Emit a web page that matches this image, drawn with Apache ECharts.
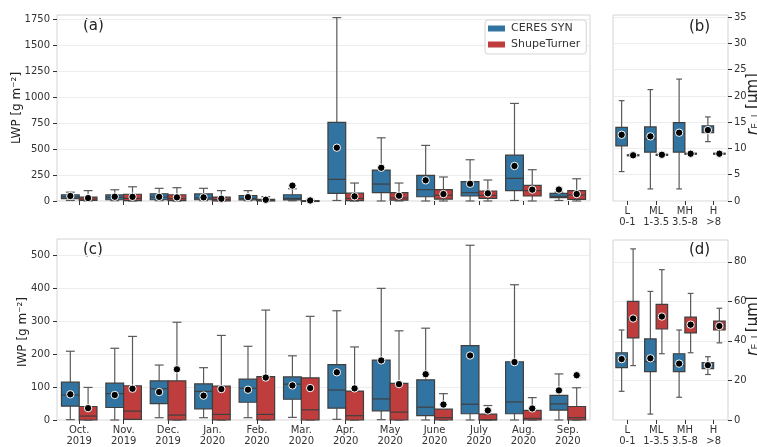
<!DOCTYPE html>
<html>
<head>
<meta charset="utf-8">
<script src="https://cdn.jsdelivr.net/npm/echarts@6/dist/echarts.min.js"></script>
<style>html,body{margin:0;padding:0;background:#fff}#c{width:757px;height:447px}</style>
</head>
<body>
<div id="c"></div>
<script>
// ---------- DATA ----------
const months = ['Oct.\n2019','Nov.\n2019','Dec.\n2019','Jan.\n2020','Feb.\n2020','Mar.\n2020','Apr.\n2020','May\n2020','June\n2020','July\n2020','Aug.\n2020','Sep.\n2020'];
const bins = ['L\n0-1','ML\n1-3.5','MH\n3.5-8','H\n>8'];

// [whiskerLow, Q1, median, Q3, whiskerHigh]
const lwpCeres = [[5,22,40,60,85],[3,12,35,58,108],[3,12,38,70,122],[3,12,30,68,122],[3,10,25,52,100],[2,10,25,60,118],[5,73,208,757,1765],[0,80,163,298,608],[0,41,109,247,535],[0,48,80,186,397],[5,99,218,442,939],[5,32,45,74,85]];
const lwpCeresMean = [48,41,40,35,37,148,513,320,199,166,337,110];
const lwpShupe = [[0,5,18,38,100],[0,3,25,65,137],[0,3,22,60,128],[0,2,15,38,100],[0,0,5,15,42],[0,0,1,3,8],[0,3,25,75,173],[0,8,30,80,173],[0,18,55,109,231],[0,25,55,96,202],[0,48,100,151,301],[0,16,58,99,214]];
const lwpShupeMean = [28,40,35,22,12,5,45,51,67,74,109,67];

const iwpCeres = [[1,42,76,115,209],[0,38,80,112,218],[7,50,95,119,167],[7,34,87,110,159],[7,54,96,124,224],[8,63,109,131,195],[2,36,91,168,332],[1,28,64,182,400],[0,13,39,122,279],[0,19,48,226,531],[0,19,55,177,411],[0,30,49,75,140]];
const iwpCeresMean = [78,76,85,74,92,105,145,181,139,196,176,90];
const iwpShupe = [[0,0,12,41,99],[2,2,27,104,254],[0,0,15,119,297],[0,0,17,103,257],[0,0,17,132,334],[0,0,31,128,315],[0,0,13,88,222],[0,0,24,111,271],[0,0,7,33,80],[0,0,1,18,44],[0,0,5,29,68],[0,0,7,41,98]];
const iwpShupeMean = [36,95,154,94,129,97,96,109,47,29,35,136];

const reLiqCeres = [[5.6,10.5,12.6,14.0,19.1],[2.3,9.3,11.8,14.1,21.2],[2.3,9.3,12.9,14.9,23.2],[11.3,13.0,13.5,14.3,16.0]];
const reLiqCeresMean = [12.6,12.3,13.0,13.5];
const reLiqShupe = [[8.5,8.6,8.7,8.8,8.9],[8.6,8.7,8.8,8.9,9.0],[8.8,8.9,9.0,9.1,9.2],[8.8,8.9,9.0,9.1,9.2]];
const reLiqShupeMean = [8.7,8.8,9.0,9.0];

const reIceCeres = [[14.5,26.5,30.5,34.0,45.5],[3.0,24.5,29.5,41.0,65.0],[11.5,24.5,27.5,33.5,45.5],[23.0,26.0,27.5,29.0,32.0]];
const reIceCeresMean = [30.8,31.2,28.5,27.7];
const reIceShupe = [[27.5,41.5,51.0,60.0,86.5],[33.5,46.0,52.5,58.5,76.0],[34.0,44.0,48.0,52.0,64.0],[39.0,45.5,47.5,50.0,56.5]];
const reIceShupeMean = [51.3,52.3,48.2,47.5];

const lwpTicks = [0,250,500,750,1000,1250,1500,1750];
const iwpTicks = [0,100,200,300,400,500];
const reLiqTicks = [0,5,10,15,20,25,30,35];
const reIceTicks = [0,20,40,60,80];

// ---------- STYLE ----------
const BLUE = '#3274a1', RED = '#c03d3e';
const FONT = 'DejaVu Sans';
const TXT = '#333';

function boxRender(side, fill) {
  return function (params, api) {
    const ci = api.value(0);
    const band = api.size([1, 0])[0];
    const w = band * 0.4;
    const c = api.coord([ci, 0])[0] + side * w / 2;
    const y = i => api.coord([ci, api.value(i)])[1];
    const yl = y(1), yq1 = y(2), ym = y(3), yq3 = y(4), yh = y(5), ymean = y(6);
    const edge = '#3f3f3f', wc = '#5a5a5a', lw = 1.2, cap = w / 4;
    const ls = {stroke: wc, lineWidth: lw};
    return {type: 'group', children: [
      {type: 'line', shape: {x1: c, y1: yq3, x2: c, y2: yh}, style: ls},
      {type: 'line', shape: {x1: c, y1: yq1, x2: c, y2: yl}, style: ls},
      {type: 'line', shape: {x1: c - cap, y1: yh, x2: c + cap, y2: yh}, style: ls},
      {type: 'line', shape: {x1: c - cap, y1: yl, x2: c + cap, y2: yl}, style: ls},
      {type: 'rect', shape: {x: c - w / 2, y: yq3, width: w, height: Math.max(yq1 - yq3, 0.8)}, style: {fill: fill, stroke: edge, lineWidth: lw}},
      {type: 'line', shape: {x1: c - w / 2, y1: ym, x2: c + w / 2, y2: ym}, style: {stroke: edge, lineWidth: lw}},
      {type: 'circle', shape: {cx: c, cy: ymean, r: 3.7}, style: {fill: '#000', stroke: '#fff', lineWidth: 1}}
    ]};
  };
}
function mk(boxes, means) { return boxes.map((b, i) => [i, ...b, means[i]]); }
function boxSeries(name, gi, side, color, boxes, means) {
  return {type: 'custom', name: name, xAxisIndex: gi, yAxisIndex: gi, itemStyle: {color: color},
    renderItem: boxRender(side, color), encode: {x: 0, y: [1, 2, 3, 4, 5, 6]}, data: mk(boxes, means), clip: false, z: 5};
}
function xAx(gi, cats, showLabel) {
  return {gridIndex: gi, type: 'category', data: cats, boundaryGap: true,
    axisLine: {show: false}, axisTick: {show: true, alignWithLabel: true, length: 4, lineStyle: {color: TXT}},
    axisLabel: {show: showLabel, color: TXT, fontSize: 10, fontFamily: FONT, margin: 5, lineHeight: 11, interval: 0},
    splitLine: {show: false}};
}
function yAx(gi, max, ticks, pos) {
  return {gridIndex: gi, type: 'value', min: 0, max: max, position: pos,
    axisLine: {show: false},
    axisTick: {show: true, length: 4, lineStyle: {color: TXT}, customValues: ticks},
    axisLabel: {color: TXT, fontSize: 10, fontFamily: FONT, margin: pos === 'left' ? 7 : 6, customValues: ticks,
      formatter: v => String(v)},
    splitLine: {show: true, lineStyle: {color: '#ededed', width: 1}}};
}
const gridStyle = {show: true, borderColor: '#d4d4d4', borderWidth: 1, containLabel: false};

const option = {
  animation: false,
  backgroundColor: '#fff',
  textStyle: {fontFamily: FONT},
  grid: [
    Object.assign({left: 57, top: 15, width: 533, height: 186}, gridStyle),
    Object.assign({left: 613, top: 15, width: 115, height: 186}, gridStyle),
    Object.assign({left: 57, top: 239, width: 533, height: 186}, gridStyle),
    Object.assign({left: 613, top: 240, width: 115, height: 185}, gridStyle)
  ],
  xAxis: [xAx(0, months, false), xAx(1, bins, true), xAx(2, months, true), xAx(3, bins, true)],
  yAxis: [yAx(0, 1790, lwpTicks, 'left'), yAx(1, 35.4, reLiqTicks, 'right'), yAx(2, 550, iwpTicks, 'left'), yAx(3, 91, reIceTicks, 'right')],
  legend: {
    data: ['CERES SYN', 'ShupeTurner'], orient: 'vertical', left: 485, top: 20,
    icon: 'rect', itemWidth: 17, itemHeight: 6, itemGap: 5,
    padding: [3, 6, 4, 3], borderColor: '#d4d4d4', borderWidth: 1, borderRadius: 3,
    backgroundColor: 'rgba(255,255,255,0.8)',
    textStyle: {fontSize: 11, color: TXT, fontFamily: FONT, padding: [0, 0, 0, 1]}
  },
  graphic: [
    {type: 'text', left: 83, top: 19, style: {text: '(a)', fontSize: 15, fontFamily: FONT, fill: '#222'}},
    {type: 'text', left: 689, top: 20, style: {text: '(b)', fontSize: 15, fontFamily: FONT, fill: '#222'}},
    {type: 'text', left: 83, top: 243, style: {text: '(c)', fontSize: 15, fontFamily: FONT, fill: '#222'}},
    {type: 'text', left: 689, top: 243, style: {text: '(d)', fontSize: 15, fontFamily: FONT, fill: '#222'}},
    {type: 'text', x: 17, y: 108, rotation: Math.PI / 2, style: {text: 'LWP [g m⁻²]', fontSize: 12, fontFamily: FONT, fill: '#222', align: 'center', verticalAlign: 'middle'}},
    {type: 'text', x: 23, y: 332, rotation: Math.PI / 2, style: {text: 'IWP [g m⁻²]', fontSize: 12, fontFamily: FONT, fill: '#222', align: 'center', verticalAlign: 'middle'}},
    {type: 'text', x: 753, y: 104, rotation: Math.PI / 2, style: {text: '{r|r}{s|E, L} {n|[μm]}', align: 'center', verticalAlign: 'middle', fill: '#222',
      rich: {r: {fontSize: 15, fontStyle: 'italic', fontFamily: FONT}, s: {fontSize: 9, fontFamily: FONT, verticalAlign: 'bottom'}, n: {fontSize: 15, fontFamily: FONT}}}},
    {type: 'text', x: 753, y: 326, rotation: Math.PI / 2, style: {text: '{r|r}{s|E, I} {n|[μm]}', align: 'center', verticalAlign: 'middle', fill: '#222',
      rich: {r: {fontSize: 15, fontStyle: 'italic', fontFamily: FONT}, s: {fontSize: 9, fontFamily: FONT, verticalAlign: 'bottom'}, n: {fontSize: 15, fontFamily: FONT}}}}
  ],
  series: [
    boxSeries('CERES SYN', 0, -1, BLUE, lwpCeres, lwpCeresMean),
    boxSeries('ShupeTurner', 0, 1, RED, lwpShupe, lwpShupeMean),
    boxSeries('CERES SYN', 1, -1, BLUE, reLiqCeres, reLiqCeresMean),
    boxSeries('ShupeTurner', 1, 1, RED, reLiqShupe, reLiqShupeMean),
    boxSeries('CERES SYN', 2, -1, BLUE, iwpCeres, iwpCeresMean),
    boxSeries('ShupeTurner', 2, 1, RED, iwpShupe, iwpShupeMean),
    boxSeries('CERES SYN', 3, -1, BLUE, reIceCeres, reIceCeresMean),
    boxSeries('ShupeTurner', 3, 1, RED, reIceShupe, reIceShupeMean)
  ]
};
const chart = echarts.init(document.getElementById('c'), null, {renderer: 'canvas'});
chart.setOption(option);
</script>
</body>
</html>
